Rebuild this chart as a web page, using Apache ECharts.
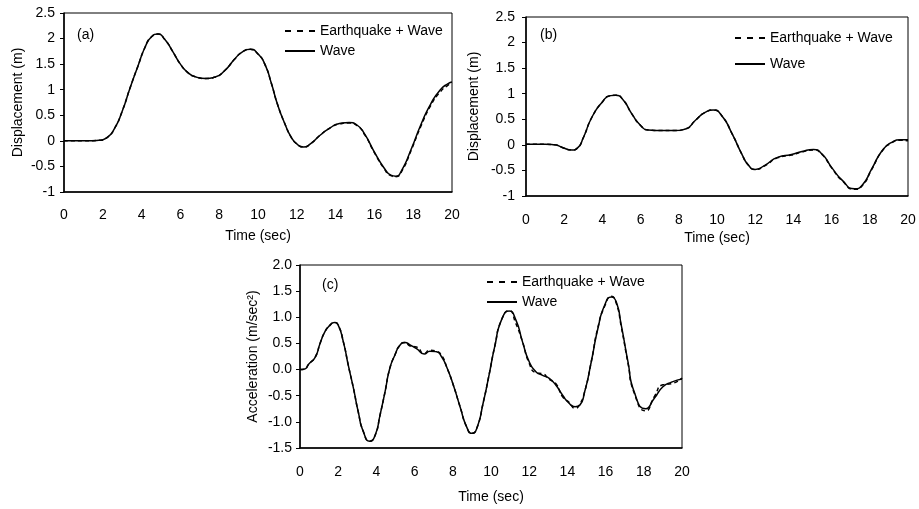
<!DOCTYPE html>
<html>
<head>
<meta charset="utf-8">
<script src="https://cdn.jsdelivr.net/npm/echarts@6/dist/echarts.min.js"></script>
<style>
  html, body { margin: 0; padding: 0; background: #fff; }
  #main { width: 919px; height: 509px; }
</style>
</head>
<body>
<div id="main"></div>
<script>
// panel (a) displacement
var timeA  = [0, 1, 1.8, 2.2, 2.6, 3.0, 3.4, 3.8, 4.2, 4.5, 4.85, 5.2, 5.6, 6.0, 6.4, 6.8, 7.3, 7.8, 8.3, 8.8, 9.2, 9.6, 10.0, 10.35, 10.7, 11.0, 11.4, 11.7, 12.0, 12.35, 12.7, 13.2, 13.7, 14.2, 14.7, 15.1, 15.5, 16.0, 16.5, 16.85, 17.1, 17.4, 17.9, 18.4, 18.9, 19.4, 19.8, 20];
var waveA  = [0, 0, 0.01, 0.06, 0.24, 0.58, 1.03, 1.45, 1.85, 2.03, 2.09, 1.98, 1.75, 1.5, 1.33, 1.25, 1.22, 1.25, 1.38, 1.6, 1.74, 1.79, 1.70, 1.50, 1.11, 0.72, 0.32, 0.08, -0.06, -0.12, -0.06, 0.11, 0.25, 0.34, 0.36, 0.31, 0.13, -0.22, -0.53, -0.67, -0.69, -0.58, -0.16, 0.32, 0.72, 1.0, 1.12, 1.15];
var quakeA = [0, 0, 0.01, 0.06, 0.24, 0.58, 1.03, 1.45, 1.85, 2.03, 2.09, 1.98, 1.75, 1.5, 1.33, 1.25, 1.22, 1.25, 1.38, 1.6, 1.74, 1.79, 1.70, 1.50, 1.11, 0.72, 0.32, 0.08, -0.06, -0.12, -0.06, 0.11, 0.25, 0.33, 0.35, 0.30, 0.12, -0.23, -0.54, -0.68, -0.70, -0.60, -0.18, 0.29, 0.69, 0.96, 1.09, 1.14];

// panel (b) displacement
var timeB  = [0, 1.0, 1.5, 1.9, 2.4, 2.7, 3.0, 3.45, 4.0, 4.4, 4.7, 5.1, 5.55, 6.0, 6.4, 7.1, 7.8, 8.35, 8.9, 9.4, 9.8, 10.25, 10.8, 11.3, 11.65, 12.0, 12.5, 13.2, 13.9, 14.45, 15.05, 15.5, 16.0, 16.55, 17.2, 17.6, 18.1, 18.65, 19.15, 19.6, 20];
var waveB  = [0.01, 0.01, 0.0, -0.05, -0.10, -0.06, 0.14, 0.54, 0.84, 0.96, 0.97, 0.87, 0.60, 0.38, 0.29, 0.28, 0.28, 0.31, 0.49, 0.64, 0.68, 0.57, 0.21, -0.18, -0.40, -0.48, -0.40, -0.24, -0.19, -0.13, -0.09, -0.18, -0.44, -0.69, -0.86, -0.79, -0.47, -0.11, 0.05, 0.10, 0.10];
var quakeB = [0.01, 0.01, 0.0, -0.05, -0.10, -0.06, 0.14, 0.54, 0.84, 0.96, 0.97, 0.87, 0.60, 0.38, 0.29, 0.28, 0.28, 0.31, 0.49, 0.64, 0.68, 0.57, 0.21, -0.18, -0.40, -0.48, -0.41, -0.25, -0.20, -0.14, -0.10, -0.19, -0.45, -0.70, -0.87, -0.80, -0.48, -0.12, 0.04, 0.09, 0.08];

// panel (c) acceleration
var timeC  = [0, 0.25, 0.45, 0.8, 1.05, 1.3, 1.55, 1.8, 2.0, 2.27, 2.53, 2.8, 3.05, 3.32, 3.65, 3.93, 4.19, 4.45, 4.7, 4.97, 5.24, 5.5, 5.76, 6.1, 6.5, 6.8, 7.15, 7.42, 7.68, 8.03, 8.38, 8.73, 9.0, 9.25, 9.6, 9.9, 10.2, 10.55, 10.95, 11.3, 11.65, 12.0, 12.35, 12.7, 13.05, 13.4, 13.75, 14.1, 14.4, 14.65, 14.9, 15.25, 15.6, 15.95, 16.3, 16.55, 16.82, 17.17, 17.5, 18.1, 18.55, 19.0, 19.45, 20];
var waveC  = [0, 0.01, 0.1, 0.24, 0.5, 0.72, 0.84, 0.9, 0.85, 0.53, 0.08, -0.36, -0.81, -1.19, -1.37, -1.26, -0.87, -0.43, 0.02, 0.28, 0.47, 0.52, 0.47, 0.40, 0.30, 0.35, 0.34, 0.24, 0.05, -0.30, -0.71, -1.10, -1.22, -1.13, -0.62, -0.1, 0.45, 0.95, 1.12, 0.95, 0.53, 0.15, -0.04, -0.11, -0.17, -0.30, -0.49, -0.65, -0.71, -0.68, -0.43, 0.15, 0.79, 1.23, 1.39, 1.30, 0.85, 0.15, -0.43, -0.75, -0.55, -0.33, -0.24, -0.18];
var quakeC = [0, 0.01, 0.1, 0.24, 0.5, 0.72, 0.84, 0.9, 0.85, 0.53, 0.08, -0.36, -0.81, -1.19, -1.37, -1.26, -0.87, -0.43, 0.02, 0.28, 0.47, 0.52, 0.45, 0.43, 0.31, 0.37, 0.35, 0.27, 0.05, -0.30, -0.71, -1.10, -1.22, -1.13, -0.62, -0.1, 0.45, 0.95, 1.13, 0.88, 0.53, 0.12, -0.06, -0.08, -0.19, -0.27, -0.52, -0.63, -0.74, -0.66, -0.43, 0.15, 0.81, 1.21, 1.40, 1.28, 0.82, 0.13, -0.45, -0.79, -0.52, -0.29, -0.27, -0.16];

var tickX = [0, 20, 2];        // min, max, interval
var tickDisp = [-1, 2.5, 0.5];
var tickAcc = [-1.5, 2.0, 0.5];

var FONT = 'Liberation Sans';
var txt = { color: '#000', fontFamily: FONT, fontSize: 14 };

// legend keys drawn as thin bars: dashed and solid
var ICON_DASH = 'path://M0,0h6v2h-6z M12,0h6v2h-6z M24,0h6v2h-6z';
var ICON_SOLID = 'path://M0,0h30v2h-30z';

function pairs(t, v) {
    return t.map(function (x, i) { return [x, v[i]]; });
}

function xAxisFor(gi, margin, gap) {
    return {
        type: 'value', gridIndex: gi,
        min: tickX[0], max: tickX[1], interval: tickX[2],
        name: 'Time (sec)', nameLocation: 'middle', nameGap: gap,
        nameTextStyle: txt,
        axisLine: { onZero: false, lineStyle: { color: '#000', width: 1.5 } },
        axisTick: { show: false },
        axisLabel: Object.assign({ margin: margin }, txt),
        splitLine: { show: false }
    };
}

function yAxisFor(gi, ticks, name, margin, gap, fmt) {
    return {
        type: 'value', gridIndex: gi,
        min: ticks[0], max: ticks[1], interval: ticks[2],
        name: name, nameLocation: 'middle', nameGap: gap,
        nameTextStyle: txt,
        axisLine: { show: true, onZero: false, lineStyle: { color: '#000', width: 1.5 } },
        axisTick: { show: true, inside: false, length: 4, lineStyle: { color: '#000' } },
        axisLabel: Object.assign({ margin: margin, formatter: fmt }, txt),
        splitLine: { show: false }
    };
}

function lineSeries(name, gi, data, dashed) {
    return {
        name: name, type: 'line', xAxisIndex: gi, yAxisIndex: gi,
        data: data, symbol: 'none', smooth: 0.6,
        lineStyle: { color: '#000', width: 1.5, type: dashed ? [4, 3] : 'solid' },
        itemStyle: { color: '#000' },
        z: dashed ? 2 : 3
    };
}

function legendFor(left, top, gap) {
    return {
        left: left, top: top, orient: 'vertical', align: 'left', padding: 0,
        itemWidth: 30, itemHeight: 2, itemGap: gap,
        textStyle: txt,
        data: [
            { name: 'Earthquake + Wave', icon: ICON_DASH },
            { name: 'Wave', icon: ICON_SOLID }
        ]
    };
}

function panelTag(text, left, top) {
    return { text: text, left: left, top: top, padding: 0,
        textStyle: Object.assign({ fontWeight: 'normal' }, txt) };
}

var myChart = echarts.init(document.getElementById('main'), null, { renderer: 'canvas' });

var option = {
    backgroundColor: '#fff',
    animation: false,
    title: [
        panelTag('(a)', 77, 28),
        panelTag('(b)', 540, 28),
        panelTag('(c)', 322, 278)
    ],
    legend: [
        legendFor(285, 24, 6),
        legendFor(735, 31, 12),
        legendFor(487, 275, 6)
    ],
    grid: [
        { left: 64, top: 13, width: 388, height: 179, show: true, borderColor: '#000', borderWidth: 1 },
        { left: 526, top: 17, width: 382, height: 179, show: true, borderColor: '#000', borderWidth: 1 },
        { left: 300, top: 265, width: 382, height: 183, show: true, borderColor: '#000', borderWidth: 1 }
    ],
    xAxis: [
        xAxisFor(0, 16, 37),
        xAxisFor(1, 17, 35),
        xAxisFor(2, 17, 42)
    ],
    yAxis: [
        yAxisFor(0, tickDisp, 'Displacement (m)', 9, 39),
        yAxisFor(1, tickDisp, 'Displacement (m)', 11, 45),
        yAxisFor(2, tickAcc, 'Acceleration (m/sec\u00B2)', 8, 40, function (v) { return v.toFixed(1); })
    ],
    series: [
        lineSeries('Earthquake + Wave', 0, pairs(timeA, quakeA), true),
        lineSeries('Wave', 0, pairs(timeA, waveA), false),
        lineSeries('Earthquake + Wave', 1, pairs(timeB, quakeB), true),
        lineSeries('Wave', 1, pairs(timeB, waveB), false),
        lineSeries('Earthquake + Wave', 2, pairs(timeC, quakeC), true),
        lineSeries('Wave', 2, pairs(timeC, waveC), false)
    ]
};

myChart.setOption(option);
</script>
</body>
</html>
